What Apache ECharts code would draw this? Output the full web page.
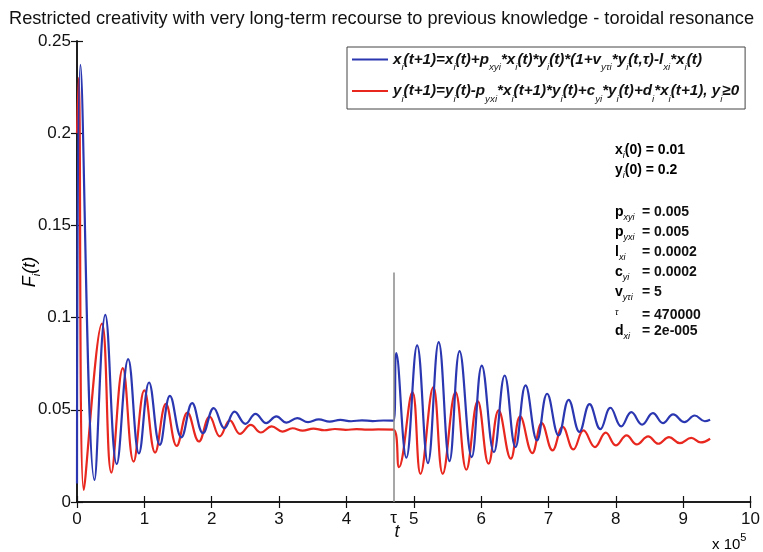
<!DOCTYPE html>
<html><head><meta charset="utf-8">
<script src="https://cdn.jsdelivr.net/npm/echarts@6/dist/echarts.min.js"></script>
<style>html,body{margin:0;padding:0;background:#fff}#c{width:763px;height:552px}</style>
</head><body><div id="c"></div>
<script>
// ---- data (t in units of 10^5) ----
const titleText = 'Restricted creativity with very long-term recourse to previous knowledge - toroidal resonance';
const xTickLabels = ['0','1','2','3','4','5','6','7','8','9','10'];
const yTickLabels = ['0','0.05','0.1','0.15','0.2','0.25'];
const tau = 4.7;
const tauLineTop = 0.1245;

const blueName = 'x_{i}(t+1)=x_{i}(t)+p_{xyi}*x_{i}(t)*y_{i}(t)*(1+v_{y\u03c4i}*y_{i}(t,\u03c4)-l_{xi}*x_{i}(t)';
const redName = 'y_{i}(t+1)=y_{i}(t)-p_{yxi}*x_{i}(t+1)*y_{i}(t)+c_{yi}*y_{i}(t)+d_{i}*x_{i}(t+1), y_{i}\u22650';

const blueT = [0, 0.05, 0.26, 0.42, 0.59, 0.76, 0.92, 1.07, 1.23, 1.38, 1.55, 1.71, 1.87, 2.03, 2.19, 2.34, 2.50, 2.65, 2.81, 2.96, 3.11, 3.27, 3.43, 3.59, 3.75, 3.91, 4.07, 4.23, 4.39, 4.55, 4.70,
  4.74, 4.89, 5.05, 5.21, 5.37, 5.53, 5.68, 5.86, 6.01, 6.19, 6.35, 6.51, 6.66, 6.83, 6.98, 7.15, 7.30, 7.46, 7.61, 7.77, 7.92, 8.08, 8.23, 8.39, 8.55, 8.70, 8.85, 9.02, 9.17, 9.32, 9.40];
const blueY = [0.010, 0.237, 0.012, 0.1015, 0.0206, 0.0775, 0.0264, 0.0648, 0.031, 0.0576, 0.0351, 0.0536, 0.0373, 0.0509, 0.040, 0.049, 0.0424, 0.0478, 0.0428, 0.0464, 0.0430, 0.0455, 0.0433, 0.0448, 0.0436, 0.0445, 0.0438, 0.0443, 0.0439, 0.0442, 0.0441,
  0.0807, 0.024, 0.0849, 0.0211, 0.0867, 0.0222, 0.0818, 0.0243, 0.074, 0.027, 0.0686, 0.0298, 0.0632, 0.0334, 0.0587, 0.0361, 0.0554, 0.038, 0.0531, 0.0395, 0.0511, 0.041, 0.0487, 0.042, 0.0482, 0.0428, 0.0475, 0.0433, 0.0469, 0.0438, 0.0446];

const redT = [0, 0.025, 0.10, 0.37, 0.51, 0.68, 0.84, 1.00, 1.16, 1.32, 1.48, 1.64, 1.81, 1.97, 2.12, 2.27, 2.42, 2.58, 2.73, 2.89, 3.05, 3.20, 3.35, 3.51, 3.67, 3.83, 3.99, 4.15, 4.31, 4.47, 4.70,
  4.78, 4.98, 5.10, 5.29, 5.43, 5.62, 5.78, 5.95, 6.11, 6.26, 6.44, 6.58, 6.76, 6.90, 7.06, 7.21, 7.37, 7.52, 7.69, 7.85, 8.00, 8.16, 8.31, 8.48, 8.63, 8.79, 8.95, 9.12, 9.26, 9.40];
const redY = [0.200, 0.230, 0.0065, 0.0967, 0.0159, 0.0726, 0.0219, 0.0605, 0.0268, 0.0532, 0.0304, 0.0485, 0.0328, 0.0463, 0.0356, 0.0443, 0.0369, 0.0418, 0.0377, 0.041, 0.0382, 0.0400, 0.0387, 0.0398, 0.0389, 0.0396, 0.0391, 0.0395, 0.0392, 0.0394, 0.0393,
  0.0189, 0.0596, 0.0153, 0.0623, 0.0153, 0.0596, 0.0175, 0.0547, 0.0208, 0.0497, 0.0235, 0.0464, 0.0265, 0.0428, 0.028, 0.0408, 0.0285, 0.0388, 0.0298, 0.0376, 0.0307, 0.0361, 0.0312, 0.0356, 0.0316, 0.0352, 0.0319, 0.0348, 0.0323, 0.0343];

const initLines = ['x_{i}(0) = 0.01', 'y_{i}(0) = 0.2'];
const paramNames = ['p_{xyi}', 'p_{yxi}', 'l_{xi}', 'c_{yi}', 'v_{y\u03c4i}', '_{\u03c4}', 'd_{xi}'];
const paramValues = ['= 0.005', '= 0.005', '= 0.0002', '= 0.0002', '= 5', '= 470000', '= 2e-005'];

// ---- helpers ----
function toRich(s, m, sb) {
  let out = '', buf = '', i = 0;
  while (i < s.length) {
    if (s[i] === '_' && s[i + 1] === '{') {
      if (buf) { out += '{' + m + '|' + buf + '}'; buf = ''; }
      const j = s.indexOf('}', i);
      out += '{' + sb + '|' + s.slice(i + 2, j) + '}';
      i = j + 1;
    } else { buf += s[i]; i++; }
  }
  if (buf) out += '{' + m + '|' + buf + '}';
  return out;
}
const FONT = '"Liberation Sans", Arial, Helvetica, sans-serif';
const BLUE = '#2a37b0', RED = '#e8271f';

const richStyles = {
  m: { fontFamily: FONT, fontSize: 15.2, fontWeight: 'bold', fontStyle: 'italic', color: '#111', lineHeight: 26, verticalAlign: 'middle' },
  s: { fontFamily: FONT, fontSize: 9.8, fontStyle: 'italic', color: '#222', lineHeight: 12, verticalAlign: 'bottom' }
};
const annRich = {
  m: { fontFamily: FONT, fontSize: 14, fontWeight: 'bold', color: '#111', lineHeight: 20, verticalAlign: 'middle' },
  s: { fontFamily: FONT, fontSize: 9, fontStyle: 'italic', color: '#333', lineHeight: 10, verticalAlign: 'bottom' }
};

const chart = echarts.init(document.getElementById('c'));
const annY1 = [153, 173];
const annY2 = [215, 235, 255, 275, 295, 318, 334];
const graphics = [];
initLines.forEach((s, k) => graphics.push({ type: 'text', left: 615, top: annY1[k] - 10, style: { text: toRich(s, 'm', 's'), rich: annRich } }));
paramNames.forEach((s, k) => {
  graphics.push({ type: 'text', left: 615, top: annY2[k] - 10, style: { text: toRich(s, 'm', 's'), rich: annRich } });
  graphics.push({ type: 'text', left: 642, top: annY2[k] - 10, style: { text: paramValues[k], font: 'bold 14px ' + FONT, fill: '#111' } });
});
graphics.push({ type: 'text', x: 30, y: 272, rotation: Math.PI / 2,
  style: { text: '{a|F}{b|i}{a|(t)}', align: 'center', verticalAlign: 'middle',
    rich: { a: { fontFamily: FONT, fontSize: 18, fontStyle: 'italic', color: '#111', lineHeight: 24, verticalAlign: 'middle' },
            b: { fontFamily: FONT, fontSize: 11, fontStyle: 'italic', color: '#111', lineHeight: 12, verticalAlign: 'bottom' } } } });
graphics.push({ type: 'text', x: 397, y: 532, style: { text: 't', align: 'center', verticalAlign: 'middle', font: 'italic 18px ' + FONT, fill: '#111' } });
graphics.push({ type: 'text', x: 712, y: 542, style: { text: '{a|x 10}{b|5}', verticalAlign: 'middle',
  rich: { a: { fontFamily: FONT, fontSize: 15, color: '#111', lineHeight: 20, verticalAlign: 'bottom' },
          b: { fontFamily: FONT, fontSize: 11, color: '#111', lineHeight: 11, verticalAlign: 'top' } } } });

const axisLine = { show: true, lineStyle: { color: '#111', width: 1.5 } };
const axisTick = { show: true, inside: true, length: 6, lineStyle: { color: '#111', width: 1.2 } };
const labelStyle = { fontFamily: FONT, fontSize: 17, color: '#111' };

chart.setOption({
  animation: false,
  backgroundColor: '#fff',
  title: { text: titleText, left: 'center', top: 5, textStyle: { fontFamily: FONT, fontSize: 18.2, fontWeight: 'normal', color: '#111' } },
  grid: { left: 77, right: 11, top: 41, bottom: 50 },
  xAxis: [
    { type: 'value', min: 0, max: 10, interval: 1, axisLine, axisTick, splitLine: { show: false },
      axisLabel: { ...labelStyle, margin: 9, formatter: v => xTickLabels[Math.round(v)] } },
    { type: 'value', position: 'top', min: 0, max: 10, interval: 1, axisLine, axisTick, splitLine: { show: false }, axisLabel: { show: false } }
  ],
  yAxis: [
    { type: 'value', min: 0, max: 0.25, interval: 0.05, axisLine, axisTick, splitLine: { show: false },
      axisLabel: { ...labelStyle, margin: 6, formatter: v => yTickLabels[Math.round(v / 0.05)] } },
    { type: 'value', position: 'right', min: 0, max: 0.25, interval: 0.05, axisLine, axisTick, splitLine: { show: false }, axisLabel: { show: false } }
  ],
  legend: {
    orient: 'vertical', left: 347, top: 47, padding: [5, 6, 5, 5], itemGap: 11,
    itemWidth: 36, itemHeight: 2, icon: 'rect',
    borderColor: '#444', borderWidth: 1, backgroundColor: '#fff',
    data: [blueName, redName],
    formatter: name => toRich(name, 'm', 's'),
    textStyle: { rich: richStyles }
  },
  series: [
    { name: blueName, type: 'line', data: blueT.map((t, i) => [t, blueY[i]]), showSymbol: false, smooth: 0.42,
      lineStyle: { color: BLUE, width: 2.2 }, itemStyle: { color: BLUE }, z: 3,
      markLine: { silent: true, symbol: 'none', animation: false,
        lineStyle: { color: '#8a8a8a', width: 1.5, type: 'solid' },
        label: { show: true, position: 'start', formatter: '\u03c4', fontFamily: FONT, fontSize: 17, color: '#111', distance: 8 },
        data: [[{ coord: [tau, 0] }, { coord: [tau, tauLineTop] }]] } },
    { name: redName, type: 'line', data: redT.map((t, i) => [t, redY[i]]), showSymbol: false, smooth: 0.42,
      lineStyle: { color: RED, width: 2.2 }, itemStyle: { color: RED }, z: 2 }
  ],
  graphic: graphics
});
</script></body></html>
